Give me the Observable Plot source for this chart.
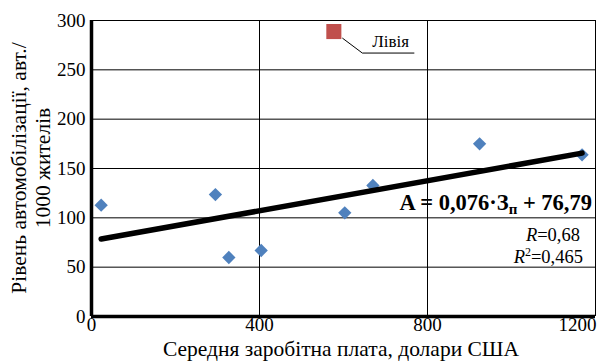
<!DOCTYPE html>
<html>
<head>
<meta charset="utf-8">
<script src="https://cdn.jsdelivr.net/npm/d3@7"></script>
<script src="https://cdn.jsdelivr.net/npm/@observablehq/plot@0.6"></script>
<style>
  html, body { margin: 0; padding: 0; background: #fff; }
  #chart svg { display: block; }
</style>
</head>
<body>
<div id="chart"></div>
<script>
// ---- data ----
const wages = [23, 295, 327, 404, 603, 670, 924, 1168];          // середня заробітна плата, $
const cars  = [112.8, 123.6, 59.8, 66.9, 105.1, 132.8, 175, 163.9]; // авт./1000 жителів
const outlierName = ["Лівія"];
const outlierWage = [577];
const outlierCars = [288.8];
const xTicks = [0, 400, 800, 1200];
const yTicks = [0, 50, 100, 150, 200, 250, 300];
const slope = 0.076;
const intercept = 76.79;
const eqLabel = ["A = 0,076·З", "п", " + 76,79"];
const rLabel = ["R", "=0,68"];
const r2Label = ["R", "2", "=0,465"];
const xTitle = "Середня заробітна плата, долари США";
const yTitle = ["Рівень автомобілізації, авт./", "1000 жителів"];
// annotation anchors in data units
const eqY = 107.4, rY = 76.5, r2Y = 53.7;

const points = wages.map((w, i) => ({w, c: cars[i]}));
const outlier = outlierName.map((n, i) => ({n, w: outlierWage[i], c: outlierCars[i]}));
const trendX = [d3.min(wages), d3.max(wages)];
const trend = trendX.map(x => ({w: x, c: slope * x + intercept}));

const FONT = "Liberation Serif, Times New Roman, serif";

function annotations(index, scales, values, dims) {
  const g = d3.create("svg:g").style("font-family", FONT).attr("fill", "black")
    .attr("text-anchor", "start");
  const xr = scales.x(1200);
  // equation
  const eq = g.append("text").attr("x", xr - 3).attr("y", scales.y(eqY))
    .attr("text-anchor", "end").attr("font-size", 22.5).attr("font-weight", "bold");
  eq.append("tspan").text(eqLabel[0]);
  eq.append("tspan").attr("font-size", 15).attr("dy", 4).text(eqLabel[1]);
  eq.append("tspan").attr("dy", -4).text(eqLabel[2]);
  // R
  const r = g.append("text").attr("x", xr - 15).attr("y", scales.y(rY))
    .attr("text-anchor", "end").attr("font-size", 18.5);
  r.append("tspan").attr("font-style", "italic").text(rLabel[0]);
  r.append("tspan").text(rLabel[1]);
  const r2 = g.append("text").attr("x", xr - 12).attr("y", scales.y(r2Y))
    .attr("text-anchor", "end").attr("font-size", 18.5);
  r2.append("tspan").attr("font-style", "italic").text(r2Label[0]);
  r2.append("tspan").attr("font-size", 12).attr("dy", -7).text(r2Label[1]);
  r2.append("tspan").attr("dy", 7).text(r2Label[2]);
  // outlier label with leader
  outlier.forEach(d => {
    const px = scales.x(d.w), py = scales.y(d.c);
    g.append("path")
      .attr("d", `M${px + 9},${py + 7}L${px + 29},${py + 22}H${px + 81}`)
      .attr("fill", "none").attr("stroke", "black").attr("stroke-width", 1);
    g.append("text").attr("x", px + 39).attr("y", py + 16)
      .attr("text-anchor", "start").attr("font-size", 17).text(d.n);
  });
  // axis titles
  const cx = (dims.marginLeft + dims.width - dims.marginRight) / 2;
  g.append("text").attr("x", cx - 2).attr("y", dims.height - 6)
    .attr("text-anchor", "middle").attr("font-size", 21.5).text(xTitle);
  const cy = (dims.marginTop + dims.height - dims.marginBottom) / 2;
  yTitle.forEach((t, i) => {
    g.append("text").attr("transform", `translate(${26 + i * 24},${cy}) rotate(-90)`)
      .attr("text-anchor", "middle").attr("font-size", 21.5).text(t);
  });
  return g.node();
}

const chart = Plot.plot({
  width: 601,
  height: 362,
  marginLeft: 91,
  marginRight: 6,
  marginTop: 20,
  marginBottom: 46,
  style: {fontFamily: FONT, background: "white"},
  x: {domain: [0, 1200], axis: null},
  y: {domain: [0, 300], axis: null},
  marks: [
    Plot.ruleX(xTicks.slice(1), {stroke: "#000", strokeWidth: 1}),
    Plot.ruleY(yTicks.slice(1), {stroke: "#000", strokeWidth: 1}),
    Plot.ruleX([0], {stroke: "#000", strokeWidth: 3.5}),
    Plot.ruleY([0], {stroke: "#000", strokeWidth: 3.5}),
    Plot.text(yTicks, {y: d => d, frameAnchor: "left", textAnchor: "end", dx: -6, fontSize: 19, fontFamily: FONT, fill: "#000", text: d => String(d)}),
    Plot.text(xTicks.slice(0, -1), {x: d => d, frameAnchor: "bottom", dy: 14, fontSize: 19, fontFamily: FONT, fill: "#000", text: d => String(d)}),
    Plot.text(xTicks.slice(-1), {x: d => d, frameAnchor: "bottom", dy: 14, dx: 1, textAnchor: "end", fontSize: 19, fontFamily: FONT, fill: "#000", text: d => String(d)}),
    Plot.dot(points, {x: "w", y: "c", symbol: "diamond2", r: 6, fill: "#4F81BD", stroke: "none"}),
    Plot.line(trend, {x: "w", y: "c", stroke: "#000", strokeWidth: 5.5, strokeLinecap: "round"}),
    Plot.dot(outlier, {x: "w", y: "c", symbol: "square", r: 8.5, fill: "#C0504D", stroke: "none"}),
    annotations
  ]
});
document.getElementById("chart").appendChild(chart);
</script>
</body>
</html>
